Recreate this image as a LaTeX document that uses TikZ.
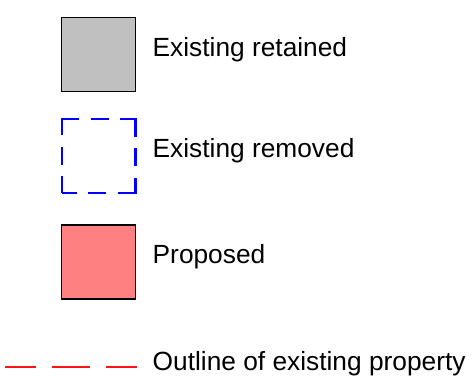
\documentclass[tikz,border=0pt]{standalone}
\usepackage{fontspec}
\setmainfont{Liberation Sans}
\definecolor{retgray}{RGB}{192,192,192}
\definecolor{propred}{RGB}{255,128,128}
\definecolor{remblue}{RGB}{0,0,255}
\definecolor{outred}{RGB}{255,20,20}
\begin{document}
\begin{tikzpicture}[x=1bp,y=-1bp,
  keybox/.style={draw, line width=1.6bp, minimum size=74bp, inner sep=0pt, outer sep=0pt},
  removedline/.style={draw=remblue, line width=2.2bp, dash pattern=on 33bp off 11.5bp on 18bp off 11.5bp, dash phase=16.5bp},
  label/.style={anchor=base west, inner sep=0pt, font=\fontsize{26.3bp}{31bp}\selectfont},
  outline/.style={draw=outred, line width=2.6bp, dash pattern=on 31bp off 16bp on 38bp off 16bp on 31bp off 100bp}]
\useasboundingbox (0,0) rectangle (473,377);
\node[keybox, fill=retgray] (ret) at (98.5,54.5) {};
\node[keybox, draw=none, minimum size=73.5bp] (rem) at (98.8,156) {};
\draw[removedline] (rem.south west) -- (rem.north west) -- (rem.north east) -- (rem.south east) -- cycle;
\node[keybox, fill=propred] (prop) at (98.5,262) {};
\node[label] (tret) at (152.5,56) {Existing retained};
\node[label] (trem) at (152.5,157.5) {Existing removed};
\node[label] (tprop) at (152.5,263.5) {Proposed};
\coordinate (la) at (5,367);
\coordinate (lb) at (137,367);
\draw[outline] (la) -- (lb);
\node[label] (tout) at (152.5,370) {Outline of existing property};
\end{tikzpicture}
\end{document}
